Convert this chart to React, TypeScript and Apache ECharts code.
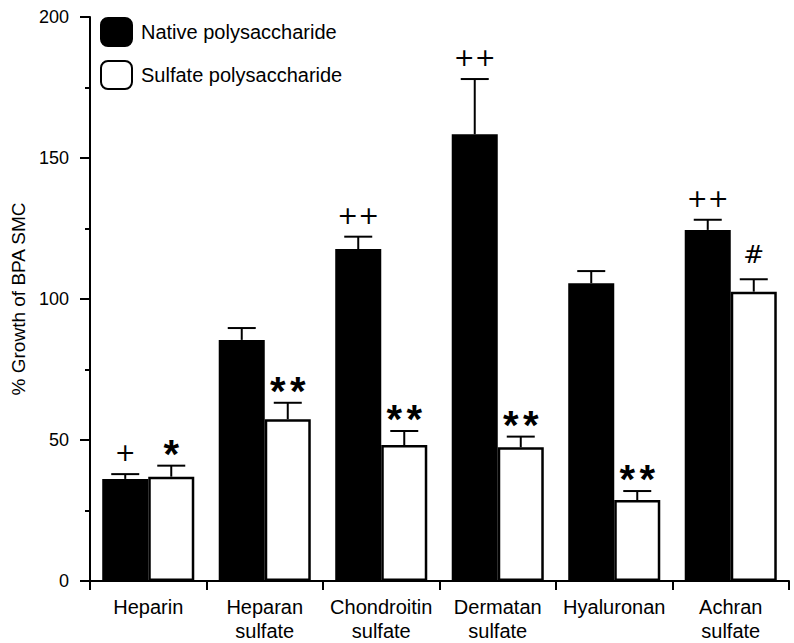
import React, { useEffect, useRef } from "react";
import * as echarts from "echarts";

const categories = [
  "Heparin",
  "Heparan\nsulfate",
  "Chondroitin\nsulfate",
  "Dermatan\nsulfate",
  "Hyaluronan",
  "Achran\nsulfate",
];
const nativeValues = [36.2, 85.5, 117.7, 158.4, 105.6, 124.5];
const nativeErrors = [1.7, 4.2, 4.4, 19.6, 4.3, 3.6];
const nativeMarks = ["+", "", "++", "++", "", "++"];
const sulfateValues = [37.0, 57.4, 48.2, 47.4, 28.7, 102.6];
const sulfateErrors = [3.9, 5.8, 5.0, 3.8, 3.2, 4.4];
const sulfateMarks = ["*", "**", "**", "**", "**", "#"];
const yTicks = [0, 50, 100, 150, 200];

const GAP = 0.21;

function markChildren(mark: string, x: number, topY: number) {
  if (mark.includes("*")) {
    const n = mark.length;
    const out: any[] = [];
    for (let k = 0; k < n; k++) {
      const dx = n === 1 ? 0 : (k - (n - 1) / 2) * 20;
      out.push({
        type: "text",
        style: {
          text: "*",
          x: x + dx,
          y: topY + 8,
          align: "center",
          verticalAlign: "bottom",
          font: "bold 40px 'Liberation Sans', Arial, sans-serif",
          fill: "#000",
        },
      });
    }
    return out;
  }
  const lift = mark === "#" ? 12 : 9;
  return [
    {
      type: "text",
      style: {
        text: mark,
        x,
        y: topY - lift,
        align: "center",
        verticalAlign: "bottom",
        font: "25px 'DejaVu Sans', sans-serif",
        fill: "#000",
      },
    },
  ];
}

function makeErrorSeries(values: number[], errors: number[], marks: string[], side: number) {
  return {
    type: "custom",
    z: 5,
    data: values.map((v, i) => [i, v, errors[i]]),
    renderItem: (params: any, api: any) => {
      const i = api.value(0);
      const v = api.value(1);
      const e = api.value(2);
      const band = api.size([1, 0])[0];
      const barW = (band * (1 - GAP)) / 2;
      const base = api.coord([i, v]);
      const top = api.coord([i, v + e]);
      const x = base[0] + (side * barW) / 2;
      let children: any[] = [
        {
          type: "line",
          shape: { x1: x, y1: base[1], x2: x, y2: top[1] },
          style: { stroke: "#000", lineWidth: 2 },
        },
        {
          type: "line",
          shape: { x1: x - 14, y1: top[1], x2: x + 14, y2: top[1] },
          style: { stroke: "#000", lineWidth: 2 },
        },
      ];
      const mark = marks[params.dataIndex];
      if (mark) children = children.concat(markChildren(mark, x, top[1]));
      return { type: "group", children };
    },
  };
}

export default function App() {
  const ref = useRef<HTMLDivElement>(null);
  useEffect(() => {
    document.body.style.margin = "0";
    const chart = echarts.init(ref.current!, null, { renderer: "svg" });
    chart.setOption({
      animation: false,
      backgroundColor: "#fff",
      textStyle: { fontFamily: "'Liberation Sans', Arial, sans-serif", color: "#000" },
      grid: { left: 90, right: 5, top: 17, bottom: 62 },
      legend: {
        orient: "vertical",
        left: 100,
        top: 17,
        padding: 0,
        itemWidth: 31,
        itemHeight: 28,
        itemGap: 13,
        textStyle: { fontSize: 20, color: "#000", padding: [0, 0, 0, 4] },
        data: ["Native polysaccharide", "Sulfate polysaccharide"],
      },
      xAxis: {
        type: "category",
        data: categories,
        axisLine: { lineStyle: { color: "#000", width: 2 } },
        axisTick: { show: true, length: 9, lineStyle: { color: "#000", width: 2 } },
        axisLabel: {
          fontSize: 20,
          lineHeight: 24,
          color: "#000",
          margin: 14,
          interval: 0,
        },
      },
      yAxis: {
        type: "value",
        min: yTicks[0],
        max: yTicks[yTicks.length - 1],
        interval: 50,
        name: "% Growth of BPA SMC",
        nameLocation: "middle",
        nameGap: 52,
        nameTextStyle: { fontSize: 19, color: "#000" },
        axisLine: { show: true, lineStyle: { color: "#000", width: 2 } },
        axisTick: { show: true, length: 10, lineStyle: { color: "#000", width: 2 } },
        minorTick: { show: true, splitNumber: 2, length: 5, lineStyle: { color: "#000", width: 2 } },
        splitLine: { show: false },
        axisLabel: { fontSize: 18, color: "#000", margin: 21 },
      },
      series: [
        {
          name: "Native polysaccharide",
          type: "bar",
          data: nativeValues,
          barGap: "0%",
          barCategoryGap: GAP * 100 + "%",
          itemStyle: { color: "#000", borderColor: "#000", borderWidth: 2 },
        },
        {
          name: "Sulfate polysaccharide",
          type: "bar",
          data: sulfateValues,
          barGap: "0%",
          barCategoryGap: GAP * 100 + "%",
          itemStyle: { color: "#fff", borderColor: "#000", borderWidth: 2.5 },
        },
        makeErrorSeries(nativeValues, nativeErrors, nativeMarks, -1),
        makeErrorSeries(sulfateValues, sulfateErrors, sulfateMarks, 1),
      ],
    });
    return () => chart.dispose();
  }, []);
  return <div ref={ref} style={{ width: 794, height: 643 }} />;
}
